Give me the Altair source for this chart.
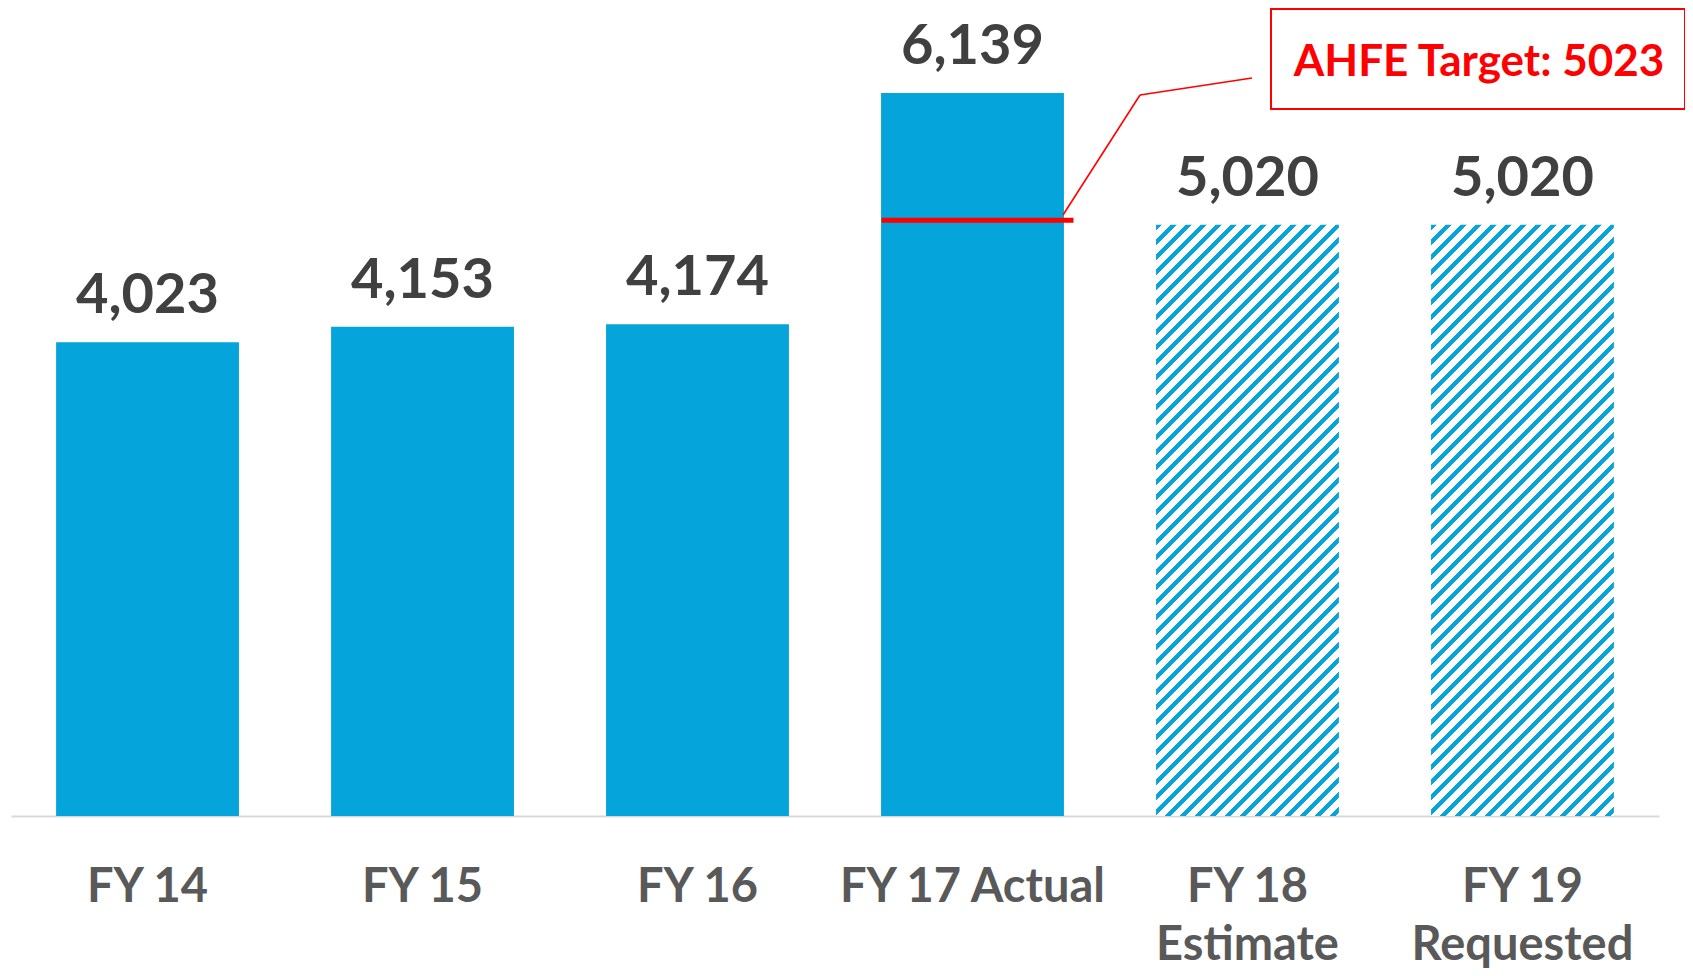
import altair as alt
import pandas as pd

# ---- data ----
categories = ["FY 14", "FY 15", "FY 16", "FY 17 Actual", "FY 18\nEstimate", "FY 19\nRequested"]
values = [4023, 4153, 4174, 6139, 5020, 5020]
kinds = ["actual", "actual", "actual", "actual", "projected", "projected"]
target_category = "FY 17 Actual"
target_value = 5023
target_label = "AHFE Target: "

df = pd.DataFrame({"cat": categories, "value": values, "kind": kinds})
tdf = pd.DataFrame({"cat": [target_category], "value": [target_value],
                    "label": [target_label + str(target_value)]})
one = pd.DataFrame({"k": [0]})

# ---- layout ----
W, H = 1648, 808
YMAX = 6860
P_IN, P_OUT = 0.335, 0.164
BLUE = "#05A5DB"
FONT = "Lato"

step = W / (len(categories) - P_IN + 2 * P_OUT)
bw = step * (1 - P_IN)
bh = 5020 / YMAX * H

# diagonal hatch via a striped linear gradient (objectBoundingBox units)
period, blue_w = 15.0, 5.5
S = bw + bh
norm = bw * bw + bh * bh
stops = []
k = 0
while k * period < S:
    a = k * period / S
    b = min((k * period + blue_w) / S, 1.0)
    c = min((k + 1) * period / S, 1.0)
    stops += [alt.GradientStop(offset=a, color=BLUE),
              alt.GradientStop(offset=b, color=BLUE),
              alt.GradientStop(offset=b, color="white"),
              alt.GradientStop(offset=c, color="white")]
    k += 1
hatch = alt.LinearGradient(gradient="linear", stops=stops, x1=0, y1=0,
                           x2=bw * S / norm, y2=bh * S / norm)

x_enc = alt.X("cat:N", sort=categories,
              scale=alt.Scale(paddingInner=P_IN, paddingOuter=P_OUT),
              axis=alt.Axis(title=None, labelAngle=0, ticks=False, tickSize=0,
                            domainColor="#D9D9D9", domainWidth=2,
                            labelFont=FONT, labelFontSize=47, labelFontWeight="bold",
                            labelColor="#595959", labelPadding=85, labelLimit=0,
                            labelBaseline="alphabetic", labelLineHeight=58,
                            labelExpr="split(datum.label, '\\n')"))
y_enc = alt.Y("value:Q", scale=alt.Scale(domain=[0, YMAX], nice=False),
              axis=None)

base = alt.Chart(df)

solid = base.mark_bar(color=BLUE).encode(x=x_enc, y=y_enc).transform_filter(
    alt.datum.kind == "actual")
hatched = base.mark_bar(fill=hatch).encode(x=x_enc, y=y_enc).transform_filter(
    alt.datum.kind == "projected")

labels = base.mark_text(font=FONT, fontSize=56, fontWeight="bold", color="#404040",
                        baseline="alphabetic", dy=-29).encode(
    x=x_enc, y=y_enc, text=alt.Text("value:Q", format=",d"))

target_line = alt.Chart(tdf).mark_tick(color="#FF0000", size=192, thickness=5,
                                       xOffset=5, yOffset=-4, opacity=1).encode(x=x_enc, y=y_enc)

leader1 = alt.Chart(one).mark_rule(color="#FF0000", strokeWidth=1.6).encode(
    x=alt.value(1052), y=alt.value(207), x2=alt.value(1129), y2=alt.value(87))
leader2 = alt.Chart(one).mark_rule(color="#FF0000", strokeWidth=1.6).encode(
    x=alt.value(1129), y=alt.value(87), x2=alt.value(1241), y2=alt.value(70))

box = alt.Chart(one).mark_rect(fill="white", stroke="#FF0000", strokeWidth=2).encode(
    x=alt.value(1260), x2=alt.value(1674), y=alt.value(1), y2=alt.value(101))
box_text = alt.Chart(tdf).mark_text(font=FONT, fontSize=44, fontWeight="bold",
                                    color="#FF0000", baseline="alphabetic",
                                    align="center").encode(
    x=alt.value(1468), y=alt.value(68), text="label:N")

chart = alt.layer(solid, hatched, labels, target_line, leader1, leader2, box, box_text).properties(
    width=W, height=H,
    autosize=alt.AutoSizeParams(type="none"),
    padding={"left": 3, "top": 0, "right": 26, "bottom": 158},
).configure_view(stroke=None)

chart.save("out.html", embed_options={"renderer": "svg", "actions": False})
